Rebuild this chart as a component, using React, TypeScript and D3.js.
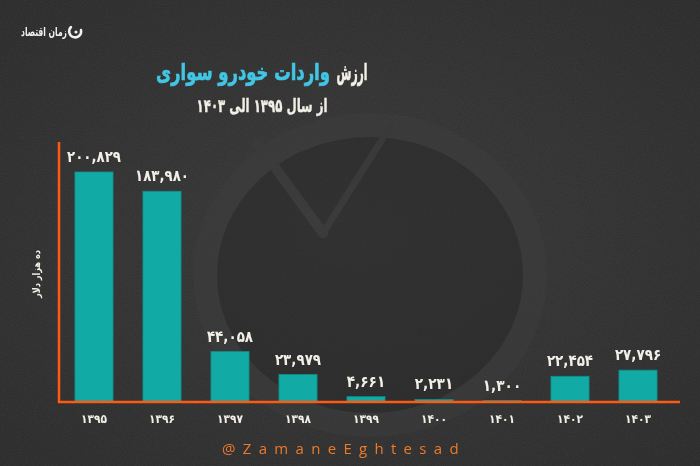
import React, { useLayoutEffect, useRef, useState } from 'react';
import * as d3 from 'd3';

// سال‌ها و ارزش واردات (ده هزار دلار)
const years = ['1395', '1396', '1397', '1398', '1399', '1400', '1401', '1402', '1403'];
const values = [200829, 183980, 44058, 23979, 4661, 2231, 1300, 22454, 27796];
const yMax = 227000;

const titleWhite = 'ارزش';
const titleCyan = 'واردات خودرو سواری';
const subtitle = 'از سال ۱۳۹۵ الی ۱۴۰۳';
const yLabel = 'ده هزار دلار';
const brand = 'زمان اقتصاد';
const handle = '@ZamaneEghtesad';

const faDigits = '۰۱۲۳۴۵۶۷۸۹';
const toFa = (s: string) => s.replace(/[0-9]/g, (d) => faDigits[+d]);

const width = 700;
const height = 466;
const margin = { top: 142, right: 20, bottom: 64, left: 59 };
const baseY = height - margin.bottom; // 402

const FONT = '"DejaVu Sans", "Noto Sans", sans-serif';

// text squeezed horizontally to a given width (the reference font is narrow)
const FitText: React.FC<{
  x: number; y: number; w: number; size: number; fill: string; bold?: number; children: string;
}> = ({ x, y, w, size, fill, bold = 0, children }) => {
  const ref = useRef<SVGTextElement | null>(null);
  const [s, setS] = useState(1);
  useLayoutEffect(() => {
    if (!ref.current) return;
    const len = ref.current.getComputedTextLength();
    if (len > 0) setS(w / len);
  }, [w, children]);
  return (
    <g transform={`translate(${x},${y}) scale(${s},1)`}>
      <text
        ref={ref}
        x={0}
        y={0}
        textAnchor="middle"
        direction="rtl"
        fill={fill}
        stroke={bold ? fill : 'none'}
        strokeWidth={bold}
        fontFamily={FONT}
        fontWeight="bold"
        fontSize={size}
      >
        {children}
      </text>
    </g>
  );
};

const App: React.FC = () => {
  const x = d3.scaleBand<string>()
    .domain(years)
    .range([60, 672])
    .paddingInner(0.44)
    .paddingOuter(0.22);

  const y = d3.scaleLinear()
    .domain([0, yMax])
    .range([baseY, margin.top]);

  const fmt = d3.format(',');

  return (
    <svg
      width={width}
      height={height}
      style={{ position: 'fixed', left: 0, top: 0, display: 'block' }}
    >
      <defs>
        <filter id="grain" x="0" y="0" width="100%" height="100%">
          <feTurbulence type="fractalNoise" baseFrequency="0.9" numOctaves="2" seed="3" />
          <feColorMatrix type="matrix" values="0 0 0 0 1  0 0 0 0 1  0 0 0 0 1  0 0 0 0.07 0" />
        </filter>
        <radialGradient id="vign" cx="50%" cy="50%" r="70%">
          <stop offset="0%" stopColor="#353535" />
          <stop offset="100%" stopColor="#282828" />
        </radialGradient>
      </defs>

      {/* background */}
      <rect width={width} height={height} fill="url(#vign)" />
      <rect width={width} height={height} filter="url(#grain)" />

      {/* faint watermark logo */}
      <g opacity={0.45}>
        <ellipse cx={370} cy={275} rx={165} ry={150} fill="#262626" />
        <ellipse cx={370} cy={275} rx={165} ry={150} fill="none" stroke="#3e3e3e" strokeWidth={24} />
        <line x1={323} y1={233} x2={257} y2={143} stroke="#3e3e3e" strokeWidth={10} strokeLinecap="round" />
        <line x1={323} y1={233} x2={390} y2={127} stroke="#3b3b3b" strokeWidth={7} strokeLinecap="round" />
      </g>

      {/* brand */}
      <g>
        <path
          d="M 71 27 A 6 6 0 1 0 81 30"
          fill="none"
          stroke="#f2f2f2"
          strokeWidth={2.5}
          strokeLinecap="round"
        />
        <circle cx={76} cy={32} r={1.6} fill="#f2f2f2" />
        <FitText x={44} y={36} w={46} size={12} fill="#f2f2f2">{brand}</FitText>
      </g>

      {/* title: two parts placed side by side */}
      <FitText x={352} y={80} w={31} size={23} fill="#f2efe6" bold={0.7}>{titleWhite}</FitText>
      <FitText x={243} y={80} w={174} size={23} fill="#41c6e3" bold={0.7}>{titleCyan}</FitText>
      <FitText x={262} y={112} w={131} size={18} fill="#f2efe6" bold={0.4}>{subtitle}</FitText>

      {/* y label */}
      <text
        transform={`translate(36.5, 274) rotate(-90)`}
        textAnchor="middle"
        direction="rtl"
        dominantBaseline="middle"
        fill="#f2efe6"
        fontFamily={FONT}
        fontWeight="bold"
        fontSize={10}
        textLength={48}
        lengthAdjust="spacingAndGlyphs"
      >
        {yLabel}
      </text>

      {/* bars */}
      {years.map((yr, i) => (
        <rect
          key={yr}
          x={x(yr)}
          y={y(values[i])}
          width={x.bandwidth()}
          height={baseY - y(values[i])}
          fill="#12aaa5"
          stroke="#0e8e8a"
          strokeWidth={0.8}
        />
      ))}

      {/* value labels */}
      {years.map((yr, i) => {
        const label = toFa(fmt(values[i]));
        return (
          <text
            key={'v' + yr}
            x={(x(yr) ?? 0) + x.bandwidth() / 2}
            y={y(values[i]) - 10}
            textAnchor="middle"
            fill="#f2efe6"
            fontFamily={FONT}
            fontWeight="bold"
            fontSize={16}
            textLength={label.length * 7.7}
            lengthAdjust="spacingAndGlyphs"
          >
            {label}
          </text>
        );
      })}

      {/* axes */}
      <line x1={59} y1={margin.top} x2={59} y2={baseY + 1} stroke="#ff5a14" strokeWidth={2.5} />
      <line x1={58} y1={baseY} x2={width - margin.right} y2={baseY} stroke="#ff5a14" strokeWidth={2.5} />

      {/* year labels */}
      {years.map((yr) => (
        <text
          key={'x' + yr}
          x={(x(yr) ?? 0) + x.bandwidth() / 2}
          y={423}
          textAnchor="middle"
          fill="#f2efe6"
          fontFamily={FONT}
          fontWeight="bold"
          fontSize={12}
          textLength={26}
          lengthAdjust="spacingAndGlyphs"
        >
          {toFa(yr)}
        </text>
      ))}

      {/* handle */}
      <text
        x={344}
        y={454}
        textAnchor="middle"
        fill="#ec7a2c"
        fontFamily='"Open Sans", sans-serif'
        fontSize={15}
        letterSpacing={7.3}
      >
        {handle}
      </text>
    </svg>
  );
};

export default App;
